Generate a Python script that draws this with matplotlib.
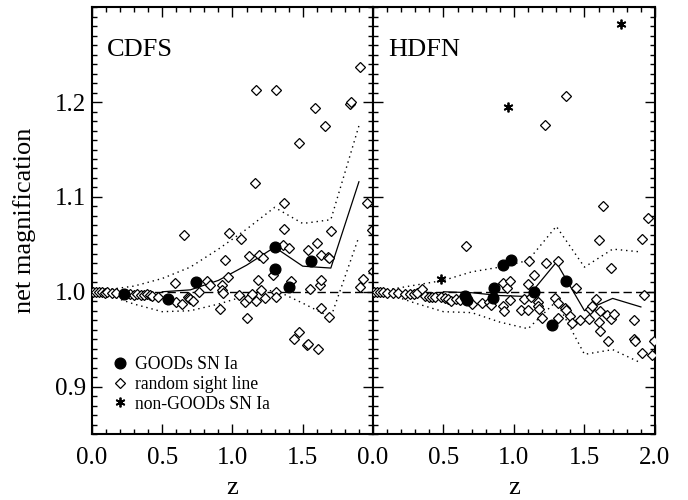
import numpy as np
import matplotlib
matplotlib.use("Agg")
import matplotlib.pyplot as plt
from matplotlib.ticker import MultipleLocator, FixedLocator, FixedFormatter

plt.rcParams['font.family'] = ['Liberation Serif', 'DejaVu Serif']

# --- dados ---
bin_z = [0.1, 0.3, 0.5, 0.7, 0.9, 1.1, 1.3, 1.5, 1.7, 1.9]
med_z = [0.5, 0.7, 0.9, 1.1, 1.3, 1.5, 1.7, 1.9]

# CDFS
cdfs_sn_z = [0.23, 0.54, 0.74, 1.30, 1.30, 1.40, 1.56]
cdfs_sn_mu = [0.998, 0.992, 1.010, 1.047, 1.024, 1.005, 1.032]

cdfs_rand_z = [0.01, 0.03, 0.05, 0.07, 0.09, 0.11, 0.14, 0.17, 0.27, 0.30,
               0.32, 0.35, 0.37, 0.39, 0.41, 0.43, 0.47, 0.59, 0.60, 0.64,
               0.655, 0.68, 0.69, 0.70, 0.72, 0.76, 0.82, 0.84, 0.91, 0.925,
               0.925, 0.93, 0.95, 0.97, 0.976, 1.05, 1.06, 1.09, 1.10, 1.12,
               1.12, 1.14, 1.16, 1.17, 1.18, 1.19, 1.20, 1.17, 1.22, 1.23,
               1.29, 1.31, 1.31, 1.31, 1.36, 1.37, 1.37, 1.40, 1.42, 1.44,
               1.47, 1.47, 1.53, 1.535, 1.54, 1.55, 1.59, 1.60, 1.61, 1.62,
               1.63, 1.63, 1.63, 1.66, 1.68, 1.69, 1.69, 1.70, 1.84, 1.845,
               1.91, 1.91, 1.93, 1.96, 1.99, 2.00]
cdfs_rand_mu = [1.000, 1.000, 1.000, 1.000, 0.999, 1.000, 0.999, 0.999, 0.998, 0.997,
                0.998, 0.997, 0.997, 0.998, 0.997, 0.996, 0.994, 1.009, 0.989, 0.987,
                1.060, 0.995, 0.993, 0.992, 0.990, 1.000, 1.011, 1.007, 0.982, 1.007,
                1.002, 0.999, 1.034, 1.016, 1.062, 0.997, 1.056, 0.989, 0.972, 1.038,
                0.993, 0.998, 1.115, 1.213, 1.012, 1.039, 1.002, 0.990, 1.036, 0.993,
                1.018, 1.000, 0.994, 1.213, 1.049, 1.094, 1.066, 1.046, 1.011, 0.950,
                0.958, 1.157, 0.944, 0.945, 1.044, 1.003, 1.194, 1.051, 0.940, 1.007,
                1.012, 0.983, 1.039, 1.175, 1.037, 1.036, 0.973, 1.064, 1.198, 1.200,
                1.237, 1.005, 1.013, 1.094, 1.065, 1.022]

cdfs_med = [1.000, 1.002, 1.012, 1.028, 1.047, 1.027, 1.025, 1.116]
cdfs_hi = [1.002, 1.006, 1.014, 1.026, 1.045, 1.066, 1.089, 1.072, 1.076, 1.175]
cdfs_lo = [0.997, 0.987, 0.979, 0.980, 0.987, 0.996, 1.002, 0.988, 0.973, 1.058]

# HDFN
hdfn_sn_z = [0.65, 0.67, 0.85, 0.86, 0.92, 0.98, 1.14, 1.27, 1.37]
hdfn_sn_mu = [0.996, 0.991, 0.993, 1.004, 1.028, 1.034, 1.000, 0.965, 1.011]

hdfn_non_z = [0.48, 0.955, 1.76]
hdfn_non_mu = [1.013, 1.195, 1.282]

hdfn_rand_z = [0.01, 0.03, 0.05, 0.07, 0.10, 0.14, 0.18, 0.23, 0.26, 0.29,
               0.31, 0.345, 0.37, 0.40, 0.42, 0.44, 0.48, 0.51, 0.53, 0.55,
               0.59, 0.62, 0.66, 0.70, 0.77, 0.82, 0.84, 0.92, 0.92, 0.93,
               0.95, 0.97, 0.97, 1.05, 1.07, 1.10, 1.10, 1.11, 1.12, 1.14,
               1.17, 1.17, 1.18, 1.20, 1.22, 1.23, 1.29, 1.31, 1.31, 1.31,
               1.36, 1.37, 1.37, 1.40, 1.41, 1.44, 1.47, 1.53, 1.54, 1.55,
               1.58, 1.60, 1.60, 1.61, 1.61, 1.63, 1.66, 1.67, 1.69, 1.69,
               1.71, 1.85, 1.85, 1.86, 1.91, 1.91, 1.92, 1.95, 1.98, 1.99]
hdfn_rand_mu = [1.000, 1.000, 1.000, 1.000, 0.999, 0.999, 0.999, 0.998, 0.998, 0.998,
                0.999, 1.003, 0.996, 0.995, 0.994, 0.995, 0.995, 0.993, 0.992, 0.990,
                0.992, 0.991, 1.048, 0.987, 0.988, 0.989, 0.986, 1.009, 0.985, 0.980,
                1.004, 1.011, 0.991, 0.981, 0.992, 1.008, 0.981, 1.032, 0.994, 1.018,
                0.989, 0.985, 0.982, 0.972, 1.176, 1.030, 0.993, 1.032, 0.988, 0.972,
                0.983, 0.981, 1.206, 0.974, 0.967, 1.004, 0.970, 0.971, 0.982, 0.985,
                0.992, 1.055, 0.968, 0.980, 0.959, 1.090, 0.976, 0.948, 1.025, 0.971,
                0.977, 0.970, 0.950, 0.948, 1.056, 0.935, 0.997, 1.078, 0.933, 0.948]

hdfn_med = [1.000, 0.999, 0.996, 0.995, 1.031, 0.980, 0.993, 0.984]
hdfn_hi = [1.002, 1.007, 1.012, 1.021, 1.026, 1.033, 1.069, 1.026, 1.045, 1.042]
hdfn_lo = [0.998, 0.988, 0.979, 0.978, 0.968, 0.961, 0.990, 0.934, 0.939, 0.925]

FS_TICK = 18
FS_LABEL = 19


def draw_panel(ax, name, sn_z, sn_mu, rand_z, rand_mu, med, hi, lo,
               non_z=None, non_mu=None):
    ax.axhline(1.0, color='k', lw=1.0, ls=(0, (6, 3)), zorder=1)
    ax.plot(bin_z, hi, color='k', lw=1.0, ls=(0, (1, 2.8)), zorder=2)
    ax.plot(bin_z, lo, color='k', lw=1.0, ls=(0, (1, 2.8)), zorder=2)
    ax.plot(med_z, med, color='k', lw=0.9, zorder=2)
    h_rand, = ax.plot(rand_z, rand_mu, ls='none', marker='D', ms=5.0,
                      mfc='white', mec='k', mew=0.9, zorder=3)
    h_sn, = ax.plot(sn_z, sn_mu, ls='none', marker='o', ms=7.7,
                    mfc='k', mec='k', zorder=4)
    h_non = None
    if non_z is not None:
        h_non, = ax.plot(non_z, non_mu, ls='none', marker=(6, 2, 0), ms=7,
                         mec='k', mew=1.3, zorder=4)
    ax.text(0.053, 0.887, name, transform=ax.transAxes, fontsize=FS_LABEL)

    ax.set_xlim(0, 2.0)
    ax.set_ylim(0.85, 1.30)
    ax.xaxis.set_major_locator(MultipleLocator(0.5))
    ax.xaxis.set_minor_locator(MultipleLocator(0.1))
    ax.yaxis.set_major_locator(FixedLocator([0.9, 1.0, 1.1, 1.2]))
    ax.yaxis.set_minor_locator(MultipleLocator(0.01))
    ax.tick_params(which='both', direction='in', top=True, right=True,
                   width=1.0, labelsize=FS_TICK)
    ax.tick_params(which='major', length=7)
    ax.tick_params(which='minor', length=3.5)
    ax.tick_params(axis='x', pad=9)
    ax.tick_params(axis='y', pad=4)
    for s in ax.spines.values():
        s.set_linewidth(1.5)
    ax.set_xlabel('z', fontsize=FS_LABEL, labelpad=6)
    return h_sn, h_rand, h_non


fig = plt.figure(figsize=(6.88, 5.0), dpi=100)
ax1 = fig.add_axes([0.1337, 0.132, 0.4084, 0.8534])
ax2 = fig.add_axes([0.5421, 0.132, 0.4099, 0.8534])

h_sn, h_rand, _ = draw_panel(ax1, 'CDFS', cdfs_sn_z, cdfs_sn_mu,
                             cdfs_rand_z, cdfs_rand_mu,
                             cdfs_med, cdfs_hi, cdfs_lo)
_, _, h_non = draw_panel(ax2, 'HDFN', hdfn_sn_z, hdfn_sn_mu,
                         hdfn_rand_z, hdfn_rand_mu,
                         hdfn_med, hdfn_hi, hdfn_lo,
                         hdfn_non_z, hdfn_non_mu)

ax1.xaxis.set_major_formatter(FixedFormatter(['0.0', '0.5', '1.0', '1.5', '']))
ax1.xaxis.set_major_locator(FixedLocator([0.0, 0.5, 1.0, 1.5, 2.0]))
ax1.yaxis.set_major_formatter(FixedFormatter(['0.9', '1.0', '1.1', '1.2']))
ax1.set_ylabel('net magnification', fontsize=FS_LABEL, labelpad=14)
ax2.tick_params(labelleft=False)

ax1.legend([h_sn, h_rand, h_non],
           ['GOODs SN Ia', 'random sight line', 'non-GOODs SN Ia'],
           loc='lower left', bbox_to_anchor=(0.07, 0.05), frameon=False,
           fontsize=12.7, handlelength=1.0, handletextpad=0.3,
           labelspacing=0.15, borderpad=0, borderaxespad=0, numpoints=1)

fig.savefig('out.png', dpi=100)
